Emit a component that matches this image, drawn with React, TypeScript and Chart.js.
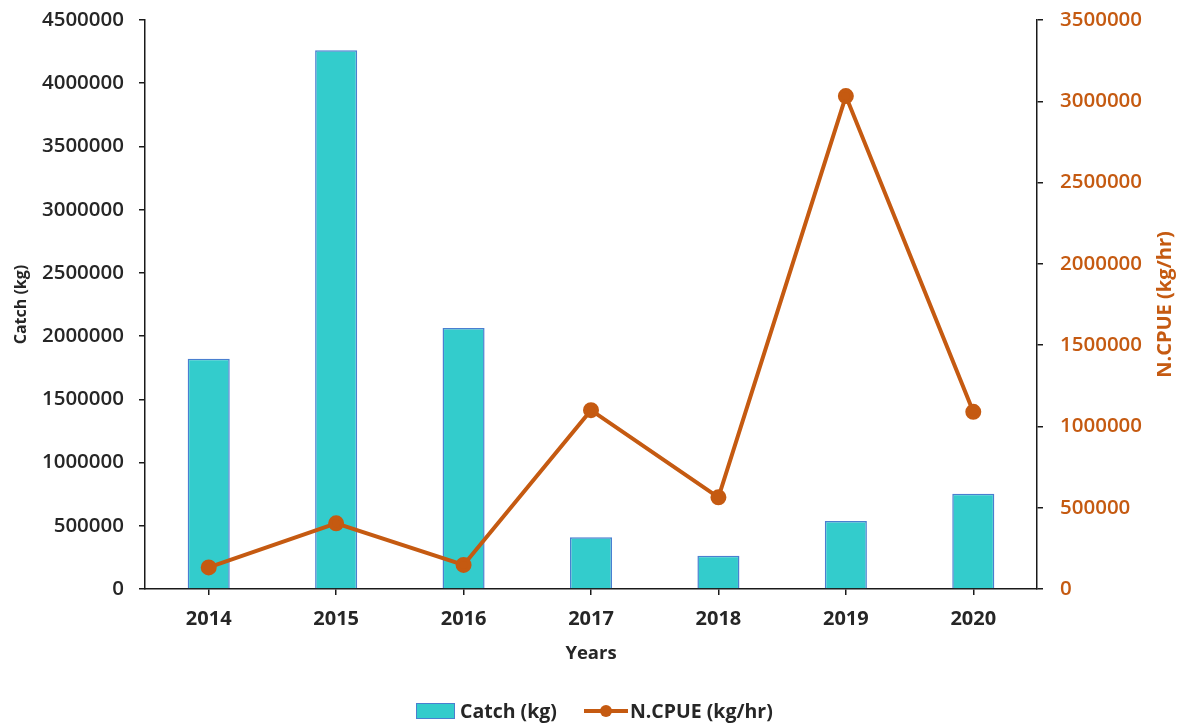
import React, { useEffect, useRef } from 'react';
import { Chart, registerables } from 'chart.js';

Chart.register(...registerables);

// Annual catch and nominal CPUE series
const years = ['2014', '2015', '2016', '2017', '2018', '2019', '2020'];
const catchKg = [1820000, 4260000, 2065000, 410000, 263000, 538000, 754000];
const ncpue = [133000, 404000, 148000, 1100000, 564000, 3032000, 1090000];

const catchAxisMax = 4500000;
const cpueAxisMax = 3500000;
const tickStep = 500000;

const catchTitle = 'Catch (kg)';
const cpueTitle = 'N.CPUE (kg/hr)';
const xTitle = 'Years';

const BAR_FILL = '#33CCCC';
const BAR_EDGE = '#4A7FD0';
const LINE_COLOR = '#C55A11';
const AXIS_COLOR = '#1a1a1a';
const TEXT_COLOR = '#262626';
const FONT = "'Open Sans', 'DejaVu Sans', sans-serif";

// Right-hand axis title, written bottom-to-top like the left one
const rightTitlePlugin = {
  id: 'rightTitle',
  afterDraw(chart: any) {
    const { ctx, chartArea } = chart;
    ctx.save();
    ctx.translate(chart.width - 15, (chartArea.top + chartArea.bottom) / 2);
    ctx.rotate(-Math.PI / 2);
    ctx.fillStyle = LINE_COLOR;
    ctx.font = `bold 20px ${FONT}`;
    ctx.textAlign = 'center';
    ctx.textBaseline = 'middle';
    ctx.fillText(cpueTitle, 0, 0);
    ctx.restore();
  },
};

// Fixed width for a vertical axis, without extra room for half-labels above/below
const fitVertical = (width: number) => (s: any) => {
  s.width = width;
  s.paddingTop = 0;
  s.paddingBottom = 0;
};

export default function App() {
  const canvasRef = useRef<HTMLCanvasElement | null>(null);

  useEffect(() => {
    if (!canvasRef.current) return;
    const chart = new Chart(canvasRef.current, {
      type: 'bar',
      data: {
        labels: years,
        datasets: [
          {
            type: 'line',
            label: cpueTitle,
            data: ncpue,
            yAxisID: 'y1',
            borderColor: LINE_COLOR,
            backgroundColor: LINE_COLOR,
            borderWidth: 4,
            pointRadius: 6,
            pointHoverRadius: 6,
            pointBackgroundColor: LINE_COLOR,
            pointBorderColor: LINE_COLOR,
            tension: 0,
            order: 0,
          },
          {
            type: 'bar',
            label: catchTitle,
            data: catchKg,
            yAxisID: 'y',
            backgroundColor: BAR_FILL,
            borderColor: BAR_EDGE,
            borderWidth: 1.5,
            categoryPercentage: 1,
            barPercentage: 0.33,
            order: 1,
          },
        ],
      },
      plugins: [rightTitlePlugin],
      options: {
        responsive: false,
        animation: false,
        layout: { padding: { top: 20, bottom: 55, left: 0, right: 0 } },
        plugins: {
          legend: { display: false },
          tooltip: { enabled: false },
        },
        scales: {
          x: {
            offset: true,
            grid: {
              display: true,
              drawOnChartArea: false,
              offset: false,
              tickLength: 6,
              color: AXIS_COLOR,
              lineWidth: 1.5,
            },
            border: { color: AXIS_COLOR, width: 1.5 },
            ticks: {
              color: TEXT_COLOR,
              padding: 12,
              font: { family: FONT, size: 20, weight: 'bold' },
            },
            title: {
              display: true,
              text: xTitle,
              color: TEXT_COLOR,
              padding: { top: 0, bottom: 4 },
              font: { family: FONT, size: 18.5, weight: 'bold' },
            },
            afterFit: (s: any) => {
              s.height = 80;
            },
          },
          y: {
            position: 'left',
            min: 0,
            max: catchAxisMax,
            grid: {
              display: true,
              drawOnChartArea: false,
              tickLength: 6,
              color: AXIS_COLOR,
              lineWidth: 1.5,
            },
            border: { color: AXIS_COLOR, width: 1.5 },
            ticks: {
              stepSize: tickStep,
              color: TEXT_COLOR,
              padding: 15,
              font: { family: FONT, size: 20.5, weight: 600 },
              callback: (v: any) => String(v),
            },
            title: {
              display: true,
              text: catchTitle,
              color: TEXT_COLOR,
              padding: { top: 12, bottom: 0 },
              font: { family: FONT, size: 16, weight: 'bold' },
            },
            afterFit: fitVertical(145),
          },
          y1: {
            position: 'right',
            min: 0,
            max: cpueAxisMax,
            grid: {
              display: true,
              drawOnChartArea: false,
              tickLength: 6,
              color: AXIS_COLOR,
              lineWidth: 1.5,
            },
            border: { color: AXIS_COLOR, width: 1.5 },
            ticks: {
              stepSize: tickStep,
              color: LINE_COLOR,
              padding: 17,
              font: { family: FONT, size: 20.5, weight: 600 },
              callback: (v: any) => String(v),
            },
            title: { display: false },
            afterFit: fitVertical(143),
          },
        },
      },
    });
    return () => chart.destroy();
  }, []);

  const legendText: React.CSSProperties = {
    fontFamily: FONT,
    fontSize: 19.5,
    fontWeight: 700,
    color: TEXT_COLOR,
    lineHeight: '22px',
  };

  return (
    <div
      style={{
        position: 'absolute',
        left: 0,
        top: 0,
        width: 1180,
        height: 724,
        background: '#fff',
        overflow: 'hidden',
      }}
    >
      <canvas ref={canvasRef} width={1180} height={724} style={{ display: 'block' }} />
      <div
        style={{
          position: 'absolute',
          left: 416,
          top: 700,
          display: 'flex',
          alignItems: 'center',
          whiteSpace: 'nowrap',
        }}
      >
        <span
          style={{
            display: 'inline-block',
            width: 37,
            height: 14,
            background: BAR_FILL,
            border: `1.5px solid ${BAR_EDGE}`,
            marginRight: 5,
          }}
        />
        <span style={legendText}>{catchTitle}</span>
        <span
          style={{
            position: 'relative',
            display: 'inline-block',
            width: 44,
            height: 16,
            marginLeft: 27,
            marginRight: 2,
          }}
        >
          <span
            style={{
              position: 'absolute',
              left: 0,
              top: 6,
              width: 44,
              height: 4,
              background: LINE_COLOR,
            }}
          />
          <span
            style={{
              position: 'absolute',
              left: 16,
              top: 2,
              width: 12,
              height: 12,
              borderRadius: '50%',
              background: LINE_COLOR,
            }}
          />
        </span>
        <span style={legendText}>{cpueTitle}</span>
      </div>
    </div>
  );
}
